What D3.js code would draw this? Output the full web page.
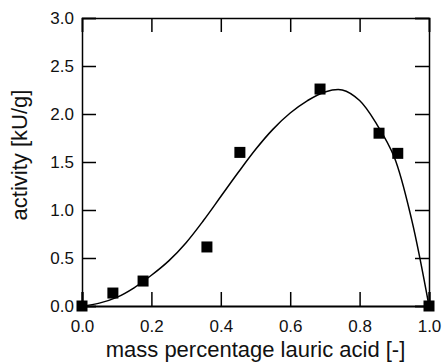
<!DOCTYPE html>
<html>
<head>
<meta charset="utf-8">
<script src="https://cdn.jsdelivr.net/npm/d3@7"></script>
<style>
  body { margin: 0; background: #fff; }
  svg { display: block; font-family: "Liberation Sans", Arial, sans-serif; }
</style>
</head>
<body>
<div id="chart-area"></div>
<script>
// measured points
var pointX = [0.0, 0.089, 0.176, 0.36, 0.455, 0.686, 0.856, 0.91, 1.0];
var pointY = [0.0, 0.135, 0.26, 0.615, 1.6, 2.26, 1.80, 1.59, 0.0];

// fitted curve
var curveX = [0, 0.05, 0.1, 0.15, 0.2, 0.25, 0.3, 0.35, 0.4, 0.45, 0.5, 0.55, 0.6, 0.65, 0.7, 0.75, 0.8, 0.85, 0.9, 0.95, 1.0];
var curveY = [0, 0.03, 0.09, 0.19, 0.32, 0.47, 0.66, 0.89, 1.14, 1.39, 1.63, 1.84, 2.01, 2.14, 2.23, 2.25, 2.14, 1.89, 1.55, 0.9, 0];

var xTicks = [0, 0.2, 0.4, 0.6, 0.8, 1.0];
var yTicks = [0, 0.5, 1.0, 1.5, 2.0, 2.5, 3.0];

var margin = {top: 18, right: 13, bottom: 57, left: 82};
var width = 442 - margin.left - margin.right;
var height = 363 - margin.top - margin.bottom;

var svg = d3.select("#chart-area")
    .append("svg")
        .attr("width", 442)
        .attr("height", 363);

var g = svg.append("g")
    .attr("transform", "translate(" + margin.left + ", " + margin.top + ")");

var x = d3.scaleLinear().domain([0, 1]).range([0, width]);
var y = d3.scaleLinear().domain([0, 3]).range([height, 0]);

var fmt = d3.format(".1f");

// axes with inward ticks, mirrored on top / right
var xAxisCall = d3.axisBottom(x).tickValues(xTicks).tickSize(-14).tickPadding(14).tickFormat(fmt);
var yAxisCall = d3.axisLeft(y).tickValues(yTicks).tickSize(-14).tickPadding(8).tickFormat(fmt);
var xTopCall = d3.axisTop(x).tickValues(xTicks).tickSize(-14).tickFormat("");
var yRightCall = d3.axisRight(y).tickValues(yTicks).tickSize(-14).tickFormat("");

g.append("g").attr("transform", "translate(0, " + height + ")").attr("class", "x axis").call(xAxisCall);
g.append("g").attr("class", "y axis").call(yAxisCall);
g.append("g").attr("class", "x2 axis").call(xTopCall);
g.append("g").attr("class", "y2 axis").attr("transform", "translate(" + width + ", 0)").call(yRightCall);

g.selectAll(".axis path").attr("stroke", "#000").attr("stroke-width", 1.5);
g.select(".x.axis path").attr("stroke-width", 2.2);
g.selectAll(".axis line").attr("stroke", "#000").attr("stroke-width", 1.5);
g.selectAll(".axis text")
    .attr("font-size", "17px")
    .attr("fill", "#111")
    .attr("font-family", "Liberation Sans, Arial, sans-serif");

// labels
g.append("text")
    .attr("x", width / 2)
    .attr("y", height + 51)
    .attr("font-size", "22px")
    .attr("text-anchor", "middle")
    .attr("fill", "#111")
    .text("mass percentage lauric acid [-]");

g.append("text")
    .attr("transform", "rotate(-90)")
    .attr("x", -137)
    .attr("y", -55)
    .attr("font-size", "22px")
    .attr("text-anchor", "middle")
    .attr("fill", "#111")
    .text("activity [kU/g]");

// fitted curve
var line = d3.line()
    .x((d, i) => x(curveX[i]))
    .y((d) => y(d))
    .curve(d3.curveCatmullRom.alpha(0.5));

g.append("path")
    .datum(curveY)
    .attr("d", line)
    .attr("fill", "none")
    .attr("stroke", "#000")
    .attr("stroke-width", 1.5);

// square markers
var s = 11;
g.selectAll("rect.pt").data(pointY)
    .enter().append("rect")
        .attr("class", "pt")
        .attr("x", (d, i) => x(pointX[i]) - s / 2)
        .attr("y", (d) => y(d) - s / 2)
        .attr("width", s)
        .attr("height", s)
        .attr("fill", "#000");
</script>
</body>
</html>
